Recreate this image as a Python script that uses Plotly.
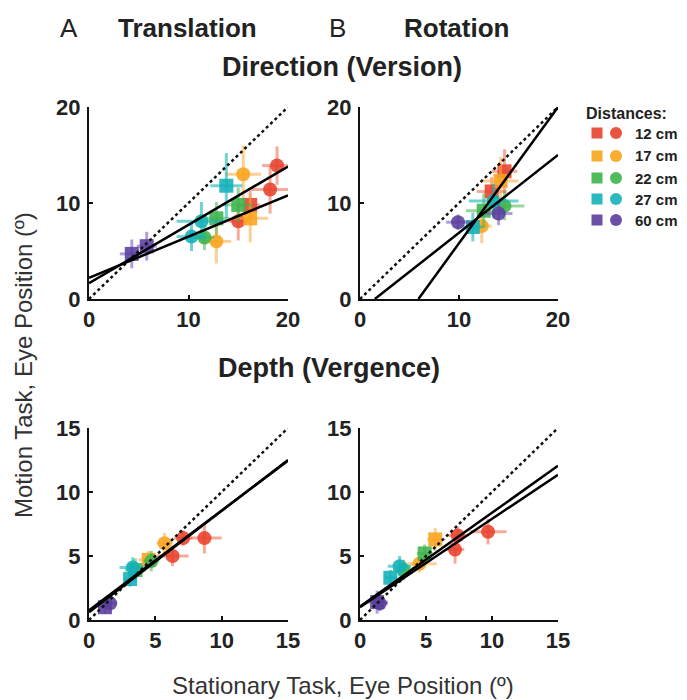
import plotly.graph_objects as go

# the page body has an 8px default margin, so the figure is drawn 8px in from the corner,
# and its container is only (window width - 16) px wide
OFF = 8
W, H = 687 - 2 * OFF, 700 - OFF

# ---------------- data ----------------
dist_labels = ["12 cm", "17 cm", "22 cm", "27 cm", "60 cm"]
dist_colors = ["#e8412c", "#f9a31b", "#3cb44b", "#12b1b8", "#5a3d9c"]
bar_colors = ["rgba(238,100,70,0.55)", "rgba(249,170,60,0.55)", "rgba(70,180,80,0.55)",
              "rgba(20,178,185,0.6)", "rgba(110,80,190,0.55)"]

# Translation, version (direction)
tv_x = [4.3, 5.8, 13.8, 11.3, 10.3, 12.8, 15.0, 11.6, 15.5, 16.2, 12.8, 18.9, 18.2, 16.2, 15.0]
tv_y = [4.7, 5.5, 11.8, 8.1, 6.5, 8.4, 9.8, 6.4, 13.0, 8.4, 6.0, 13.9, 11.4, 9.8, 8.1]
tv_ex = [1.2, 1.0, 1.6, 2.5, 1.5, 1.3, 1.5, 1.0, 1.8, 1.8, 1.5, 1.5, 1.9, 1.0, 1.0]
tv_ey = [1.5, 1.5, 3.4, 2.0, 1.5, 1.7, 1.8, 1.3, 3.0, 2.5, 2.3, 2.0, 2.5, 1.5, 2.0]
tv_d = [4, 4, 3, 3, 3, 2, 2, 2, 1, 1, 1, 0, 0, 0, 0]
tv_s = ["square", "square", "square", "circle", "circle", "square", "square", "circle",
        "circle", "square", "circle", "circle", "circle", "square", "circle"]

# Rotation, version (direction)
rv_x = [9.9, 14.0, 14.6, 13.3, 14.2, 12.3, 14.6, 12.5, 13.5, 11.4]
rv_y = [8.0, 8.9, 13.3, 11.2, 12.3, 7.6, 9.7, 9.2, 10.2, 7.5]
rv_ex = [1.2, 1.4, 1.3, 1.5, 1.8, 1.0, 2.0, 1.8, 2.5, 1.0]
rv_ey = [0.8, 1.2, 2.3, 1.5, 2.5, 1.8, 1.5, 1.8, 1.8, 1.5]
rv_d = [4, 4, 0, 0, 1, 1, 2, 2, 3, 3]
rv_s = ["circle", "circle", "square", "square", "square", "circle", "circle", "square",
        "circle", "square"]

# Translation, vergence (depth)
tg_x = [1.2, 1.6, 3.1, 3.3, 3.5, 4.7, 4.5, 5.7, 6.3, 7.1, 8.7]
tg_y = [1.0, 1.3, 3.2, 4.1, 3.9, 4.6, 4.7, 6.0, 5.0, 6.4, 6.4]
tg_ex = [0.5, 0.5, 0.5, 1.0, 0.8, 0.6, 0.8, 0.6, 1.2, 0.7, 1.3]
tg_ey = [0.5, 0.6, 0.6, 0.8, 0.9, 0.8, 0.7, 0.8, 0.8, 0.6, 1.2]
tg_d = [4, 4, 3, 3, 2, 2, 1, 1, 0, 0, 0]
tg_s = ["square", "circle", "square", "circle", "square", "circle", "square", "circle",
        "circle", "circle", "circle"]

# Rotation, vergence (depth)
rg_x = [1.3, 1.5, 2.3, 3.0, 3.3, 4.9, 4.5, 5.7, 7.2, 7.4, 9.7]
rg_y = [1.4, 1.3, 3.3, 4.2, 3.9, 5.2, 4.4, 6.3, 5.5, 6.6, 6.9]
rg_ex = [0.8, 0.6, 0.5, 0.9, 0.8, 0.6, 1.3, 0.6, 0.7, 0.8, 1.4]
rg_ey = [0.9, 0.6, 0.6, 0.8, 0.8, 0.7, 0.7, 0.9, 1.1, 0.7, 1.0]
rg_d = [4, 4, 3, 3, 2, 2, 1, 1, 0, 0, 0]
rg_s = ["square", "circle", "square", "circle", "circle", "square", "circle", "square",
        "circle", "circle", "circle"]

# regression lines: (intercept, slope)
tv_fits = [(1.65, 0.6075), (2.2, 0.43)]
rv_fits = [(-8.37, 1.418), (-1.216, 0.811)]
tg_fits = [(0.6, 0.793), (0.75, 0.78)]
rg_fits = [(1.05, 0.733), (1.0, 0.69)]

axis_max = [20, 20, 15, 15]
tick_vals = [[0, 10, 20], [0, 10, 20], [0, 5, 10, 15], [0, 5, 10, 15]]

# ---------------- layout geometry (window pixels) ----------------
def px_x(p):
    return (p - OFF) / W

def px_y(p):
    return 1 - (p - OFF) / H

panels = [
    dict(data=(tv_x, tv_y, tv_ex, tv_ey, tv_d, tv_s), fits=tv_fits, xd=(89, 288), yd=(299, 107)),
    dict(data=(rv_x, rv_y, rv_ex, rv_ey, rv_d, rv_s), fits=rv_fits, xd=(360, 558), yd=(299, 107)),
    dict(data=(tg_x, tg_y, tg_ex, tg_ey, tg_d, tg_s), fits=tg_fits, xd=(89, 288), yd=(620, 428)),
    dict(data=(rg_x, rg_y, rg_ex, rg_ey, rg_d, rg_s), fits=rg_fits, xd=(360, 558), yd=(620, 428)),
]

fig = go.Figure()
layout = {}
FONT = "Liberation Sans, Arial, Helvetica"
tickfont = dict(family=FONT, size=22, color="#222", weight="bold")

for i, p in enumerate(panels):
    n = "" if i == 0 else str(i + 1)
    xa, ya = "x" + n, "y" + n
    m = axis_max[i]
    common = dict(range=[0, m], showline=True, linecolor="#111", linewidth=2,
                  ticks="inside", ticklen=4, tickwidth=1.5, tickcolor="#111",
                  tickvals=tick_vals[i], showgrid=False, zeroline=False,
                  tickfont=tickfont, fixedrange=True, automargin=False)
    layout["xaxis" + n] = dict(domain=[px_x(p["xd"][0]), px_x(p["xd"][1])], anchor=ya, **common)
    layout["yaxis" + n] = dict(domain=[px_y(p["yd"][0]), px_y(p["yd"][1])], anchor=xa,
                               ticklabelstandoff=2, **common)
    xs, ys, exs, eys, ds, ss = p["data"]
    for d in range(5):
        for sym in ["square", "circle"]:
            idx = [k for k in range(len(xs)) if ds[k] == d and ss[k] == sym]
            if not idx:
                continue
            fig.add_trace(go.Scatter(
                x=[xs[k] for k in idx], y=[ys[k] for k in idx], mode="markers",
                xaxis=xa, yaxis=ya, showlegend=False, cliponaxis=False,
                marker=dict(symbol=sym, size=14, color=dist_colors[d], opacity=0.88,
                            line=dict(width=0)),
                error_x=dict(type="data", array=[exs[k] for k in idx], color=bar_colors[d],
                             thickness=3, width=0),
                error_y=dict(type="data", array=[eys[k] for k in idx], color=bar_colors[d],
                             thickness=3, width=0),
            ))
    # identity line
    fig.add_trace(go.Scatter(x=[0, m], y=[0, m], mode="lines", xaxis=xa, yaxis=ya,
                             showlegend=False, line=dict(color="#111", width=2.5, dash="dot")))
    # regression lines
    for a, b in p["fits"]:
        x0 = max(0, -a / b)
        x1 = min(m, (m - a) / b)
        fig.add_trace(go.Scatter(x=[x0, x1], y=[a + b * x0, a + b * x1], mode="lines",
                                 xaxis=xa, yaxis=ya, showlegend=False,
                                 line=dict(color="#000", width=2.5)))

# ---------------- annotations ----------------
ann = []
def text(px, py, s, size, bold=False, color="#222", angle=0, xanchor="center"):
    ann.append(dict(x=px_x(px), y=px_y(py), xref="paper", yref="paper", text=s,
                    showarrow=False, textangle=angle, xanchor=xanchor, yanchor="middle",
                    font=dict(family=FONT, size=size, color=color,
                              weight="bold" if bold else "normal")))

text(69, 28, "A", 26)
text(187, 28, "Translation", 26, bold=True)
text(337, 28, "B", 26)
text(456, 28, "Rotation", 26, bold=True)
text(342, 67, "Direction (Version)", 27, bold=True)
text(329, 368, "Depth (Vergence)", 27, bold=True)
text(23, 365, "Motion Task, Eye Position (º)", 24, color="#333", angle=-90)
text(343, 685, "Stationary Task, Eye Position (º)", 24, color="#333")

# legend
text(584, 114, "Distances:", 16, bold=True, xanchor="left")
shapes = []
rows = [133, 156, 178, 199, 220]
for d, ry in enumerate(rows):
    text(633, ry, dist_labels[d], 15, bold=True, xanchor="left")
    s = 5.5
    shapes.append(dict(type="rect", xref="paper", yref="paper",
                       x0=px_x(597 - s), x1=px_x(597 + s), y0=px_y(ry + s), y1=px_y(ry - s),
                       fillcolor=dist_colors[d], line=dict(width=0), opacity=0.9))
    shapes.append(dict(type="circle", xref="paper", yref="paper",
                       x0=px_x(616 - 6), x1=px_x(616 + 6), y0=px_y(ry + 6), y1=px_y(ry - 6),
                       fillcolor=dist_colors[d], line=dict(width=0), opacity=0.9))

fig.update_layout(width=W, height=H, margin=dict(l=0, r=0, t=0, b=0),
                  paper_bgcolor="white", plot_bgcolor="white", annotations=ann,
                  shapes=shapes, **layout)

fig.write_html("out.html")
